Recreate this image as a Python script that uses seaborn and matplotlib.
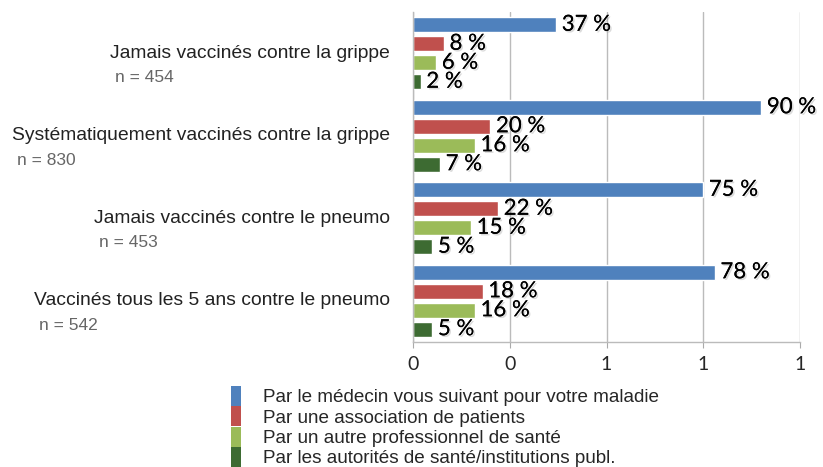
import matplotlib
matplotlib.use("Agg")
import matplotlib.pyplot as plt
import matplotlib.patheffects as pe
import matplotlib.transforms as mtransforms
from matplotlib.patches import Patch
from matplotlib.ticker import FuncFormatter
import pandas as pd
import seaborn as sns

# Data
groups = ['Jamais vaccinés contre la grippe',
          'Systématiquement vaccinés contre la grippe',
          'Jamais vaccinés contre le pneumo',
          'Vaccinés tous les 5 ans contre le pneumo']
group_n = ['n = 454', 'n = 830', 'n = 453', 'n = 542']
sources = ['Par le médecin vous suivant pour votre maladie',
           'Par une association de patients',
           'Par un autre professionnel de santé',
           'Par les autorités de santé/institutions publ.']
medecin = [0.37, 0.90, 0.75, 0.78]
association = [0.08, 0.20, 0.22, 0.18]
autre_pro = [0.06, 0.16, 0.15, 0.16]
autorites = [0.02, 0.07, 0.05, 0.05]
x_ticks = [0, 0.25, 0.5, 0.75, 1.0]

colors = ['#4F81BD', '#C0504D', '#9BBB59', '#3D6B32']

rows = []
for src, vals in zip(sources, [medecin, association, autre_pro, autorites]):
    for g, v in zip(groups, vals):
        rows.append({'groupe': g, 'source': src, 'part': v})
df = pd.DataFrame(rows)

sns.set_style('white')
plt.rcParams['font.family'] = ['Liberation Sans', 'DejaVu Sans']

fig = plt.figure(figsize=(8.23, 4.67), dpi=100)
ax = fig.add_axes([413 / 823, 1 - 342 / 467, 387 / 823, 330 / 467])

sns.barplot(data=df, y='groupe', x='part', hue='source', order=groups,
            hue_order=sources, palette=colors, orient='h',
            width=0.92, gap=0.2, legend=False, ax=ax, saturation=1)

# value labels with soft shadow
shadow = [pe.withSimplePatchShadow(offset=(1.2, -1.2), shadow_rgbFace='#999999', alpha=0.35),
          pe.Normal()]
for cont in ax.containers:
    labels = [f"{round(b.get_width() * 100)} %" for b in cont]
    texts = ax.bar_label(cont, labels=labels, padding=4, fontsize=16,
                         family='Lato', color='black')
    for t in texts:
        t.set_path_effects(shadow)

ax.set_xlim(0, 1)
ax.set_xticks(x_ticks)
ax.xaxis.set_major_formatter(FuncFormatter(lambda v, p: f"{int(v + 0.5)}"))
ax.tick_params(axis='x', labelsize=14, length=4, color='#AAAAAA', pad=6,
               bottom=True, labelfontfamily='Lato')
ax.grid(axis='x', color='#BBBBBB', linewidth=1)
ax.set_axisbelow(True)
for s in ['top', 'right']:
    ax.spines[s].set_visible(False)
for s in ['left', 'bottom']:
    ax.spines[s].set_color('#BBBBBB')
    ax.spines[s].set_linewidth(1)
ax.set_xlabel('')
ax.set_ylabel('')
ax.set_yticks([])

# group labels: name right-aligned, n below it, left-aligned with the name
blend = mtransforms.blended_transform_factory(ax.transAxes, ax.transData)
name_texts = []
for i, g in enumerate(groups):
    t = ax.text(-0.059, i - 0.0, g, transform=blend, ha='right', va='center',
                fontsize=13.9, color='#222222')
    name_texts.append(t)
fig.canvas.draw()
renderer = fig.canvas.get_renderer()
for i, (t, n) in enumerate(zip(name_texts, group_n)):
    x0 = t.get_window_extent(renderer).x0 + 5
    xa = ax.transAxes.inverted().transform((x0, 0))[0]
    ax.text(xa, i + 0.3, n, transform=blend, ha='left', va='center',
            fontsize=12.5, color='#666666')

handles = [Patch(facecolor=c, edgecolor='none') for c in colors]
fig.legend(handles, sources, loc='upper left', bbox_to_anchor=(231 / 823, 1 - 386 / 467),
           frameon=False, fontsize=13.6, handlelength=0.55, handleheight=1.25,
           handletextpad=1.15, labelspacing=0.0, borderpad=0, borderaxespad=0)

fig.savefig('out.png', dpi=100)
